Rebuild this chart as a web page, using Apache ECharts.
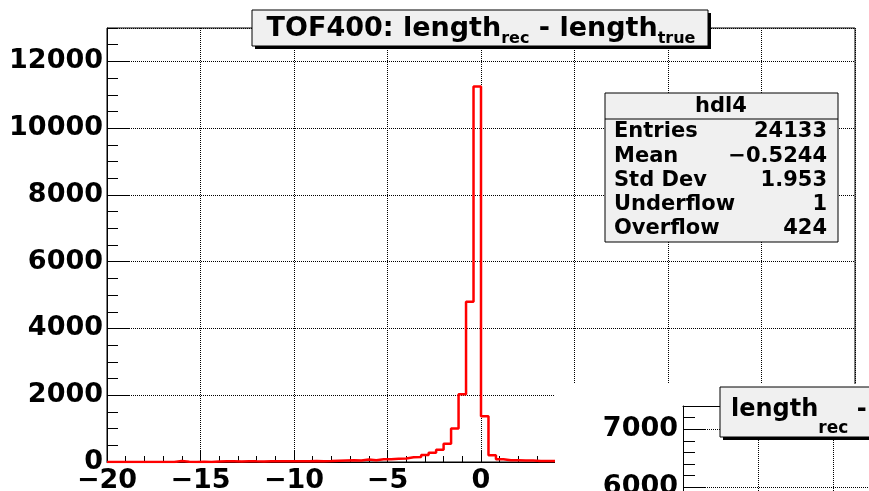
<!DOCTYPE html>
<html><head><meta charset="utf-8">
<script src="https://cdn.jsdelivr.net/npm/echarts@6/dist/echarts.min.js"></script>
<style>html,body{margin:0;padding:0;background:#fff}#c{width:869px;height:491px}</style>
</head><body><div id="c"></div>
<script>
// ---- data ----
const histName = 'hdl4';
const binLow = -20;          // histogram low edge
const binWidth = 0.4;        // 100 bins from -20 to 20
const counts = [
  0,0,0,0,0,0,0,0,0,30,
  5,0,5,0,18,22,20,15,25,20,
  18,22,24,20,26,22,25,28,24,30,
  40,45,50,48,75,55,80,85,100,105,
  140,150,210,280,370,550,1000,2030,4800,11250,
  1370,200,80,50,50,45,45,30,30,30,
  25,25,20,20,18,15,15,12,12,10,
  10,8,8,8,6,6,5,5,5,4,
  4,4,3,3,3,3,2,2,2,2,
  2,1,1,1,1,1,1,0,1,0
];
const statLabels = ['Entries', 'Mean', 'Std Dev', 'Underflow', 'Overflow'];
const statValues = ['24133', '\u22120.5244', '1.953', '1', '424'];
const xRange = [-20, 20];
const yRange = [0, 13000];
const pad2YRange = [4000, 7400];
const pad2XRange = [0, 3];

// ---- build ----
const FONT = 'DejaVu Sans';
const fmt = v => String(v).replace('-', '\u2212');
const stepData = counts.map((c, i) => [binLow + i * binWidth, c]);
stepData.push([binLow + counts.length * binWidth, counts[counts.length - 1]]);

const labelStyle = {fontFamily: FONT, fontWeight: 'bold', fontSize: 27, color: '#000'};
const dotted = {show: true, lineStyle: {type: 'dotted', color: '#000', width: 1}};

const statChildren = [
  {type: 'rect', z: 20, shape: {x: 605, y: 93, width: 233, height: 149}, style: {fill: '#f0f0f0', stroke: '#000', lineWidth: 1}},
  {type: 'line', z: 21, shape: {x1: 605, y1: 119, x2: 838, y2: 119}, style: {stroke: '#000', lineWidth: 1}},
  {type: 'text', z: 21, x: 721, y: 107, style: {text: histName, align: 'center', verticalAlign: 'middle', fontFamily: FONT, fontWeight: 'bold', fontSize: 21, fill: '#000'}}
];
statLabels.forEach((l, i) => {
  const cy = 132 + i * 24.2;
  statChildren.push({type: 'text', z: 21, x: 614, y: cy, style: {text: l, align: 'left', verticalAlign: 'middle', fontFamily: FONT, fontWeight: 'bold', fontSize: 21, fill: '#000'}});
  statChildren.push({type: 'text', z: 21, x: 827, y: cy, style: {text: statValues[i], align: 'right', verticalAlign: 'middle', fontFamily: FONT, fontWeight: 'bold', fontSize: 21, fill: '#000'}});
});

const richTitle = {
  a: {fontFamily: FONT, fontWeight: 'bold', fontSize: 27, lineHeight: 30, verticalAlign: 'top', color: '#000'},
  s: {fontFamily: FONT, fontWeight: 'bold', fontSize: 16, lineHeight: 26, padding: [16, 0, 0, 0], verticalAlign: 'top', color: '#000'}
};
const richTitle2 = {
  a: {fontFamily: FONT, fontWeight: 'bold', fontSize: 24, lineHeight: 28, verticalAlign: 'top', color: '#000'},
  s: {fontFamily: FONT, fontWeight: 'bold', fontSize: 17, lineHeight: 20, padding: [22, 0, 0, 0], verticalAlign: 'top', color: '#000'}
};

const option = {
  backgroundColor: '#fff',
  animation: false,
  grid: [
    {left: 107, top: 28, width: 748, height: 434, outerBoundsMode: 'none', containLabel: false,
     show: true, borderColor: '#000', borderWidth: 1, backgroundColor: '#fff'},
    {left: 683, top: 406, width: 225, height: 197, outerBoundsMode: 'none', containLabel: false, show: false}
  ],
  xAxis: [
    {gridIndex: 0, type: 'value', min: xRange[0], max: xRange[1], interval: 5,
     axisLine: {show: true, onZero: false, lineStyle: {color: '#000', width: 1}},
     axisTick: {show: true, inside: true, length: 12, lineStyle: {color: '#000'}},
     minorTick: {show: true, splitNumber: 5, length: 6, lineStyle: {color: '#000'}},
     splitLine: dotted,
     axisLabel: Object.assign({margin: 5, formatter: fmt}, labelStyle)},
    {gridIndex: 1, type: 'value', position: 'top', min: pad2XRange[0], max: pad2XRange[1], interval: 1, z: 60,
     axisLine: {show: true, onZero: false, lineStyle: {color: '#000', width: 1}},
     axisTick: {show: false}, axisLabel: {show: false}, splitLine: dotted}
  ],
  yAxis: [
    {gridIndex: 0, type: 'value', min: yRange[0], max: yRange[1], interval: 2000,
     axisLine: {show: true, onZero: false, lineStyle: {color: '#000', width: 1}},
     axisTick: {show: true, inside: true, length: 22, lineStyle: {color: '#000'}},
     splitLine: dotted,
     axisLabel: Object.assign({margin: 4, showMaxLabel: false, formatter: fmt}, labelStyle)},
    {gridIndex: 0, type: 'value', position: 'left', min: yRange[0], max: yRange[1], interval: 500,
     axisLine: {show: false, onZero: false}, axisTick: {show: true, inside: true, length: 11, lineStyle: {color: '#000'}},
     axisLabel: {show: false}, splitLine: {show: false}},
    {gridIndex: 1, type: 'value', position: 'left', min: pad2YRange[0], max: pad2YRange[1], interval: 1000, z: 60,
     axisLine: {show: true, onZero: false, lineStyle: {color: '#000', width: 1}},
     axisTick: {show: true, inside: true, length: 23, lineStyle: {color: '#000'}},
     splitLine: dotted,
     axisLabel: Object.assign({margin: 5, showMaxLabel: false, formatter: fmt}, labelStyle)},
    {gridIndex: 1, type: 'value', position: 'left', min: pad2YRange[0], max: pad2YRange[1], interval: 200, z: 60,
     axisLine: {show: false, onZero: false}, axisTick: {show: true, inside: true, length: 12, lineStyle: {color: '#000'}},
     axisLabel: {show: false}, splitLine: {show: false}}
  ],
  series: [{
    type: 'line', xAxisIndex: 0, yAxisIndex: 0, step: 'end', data: stepData,
    symbol: 'none', clip: true, z: 5,
    lineStyle: {color: '#ff0000', width: 2.5}
  }],
  graphic: [
    // title box of the histogram
    {type: 'rect', z: 30, shape: {x: 255, y: 13, width: 456, height: 36}, style: {fill: '#000'}},
    {type: 'rect', z: 31, shape: {x: 252, y: 10, width: 456, height: 36}, style: {fill: '#f0f0f0', stroke: '#000', lineWidth: 1}},
    {type: 'text', z: 32, x: 481, y: 30, style: {text: '{a|TOF400: length}{s|rec}{a| - length}{s|true}', align: 'center', verticalAlign: 'middle', rich: richTitle}},
    // statistics box
    ...statChildren,
    // second pad (overlapping, bottom-right)
    {type: 'rect', z: 50, shape: {x: 555, y: 384, width: 320, height: 110}, style: {fill: '#fff'}},
    {type: 'rect', z: 70, shape: {x: 723, y: 390, width: 300, height: 50}, style: {fill: '#000'}},
    {type: 'rect', z: 71, shape: {x: 720, y: 387, width: 300, height: 50}, style: {fill: '#f0f0f0', stroke: '#000', lineWidth: 1}},
    {type: 'text', z: 72, x: 731, y: 412, style: {text: '{a|length}{s|rec}{a| -}', align: 'left', verticalAlign: 'middle', rich: richTitle2}}
  ]
};
const chart = echarts.init(document.getElementById('c'), null, {renderer: 'canvas'});
chart.setOption(option);
</script>
</body></html>
